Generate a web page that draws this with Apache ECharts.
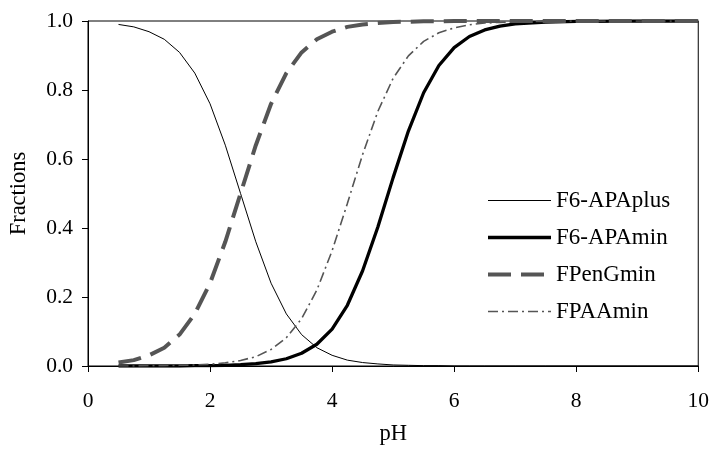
<!DOCTYPE html>
<html>
<head>
<meta charset="utf-8">
<script src="https://cdn.jsdelivr.net/npm/echarts@6/dist/echarts.min.js"></script>
<style>
html,body{margin:0;padding:0;background:#fff;}
#chart{width:712px;height:451px;}
</style>
</head>
<body>
<div id="chart"></div>
<script>
var pH = [0.5,0.75,1,1.25,1.5,1.75,2,2.25,2.5,2.75,3,3.25,3.5,3.75,4,4.25,4.5,4.75,5,5.25,5.5,5.75,6,6.25,6.5,6.75,7,7.5,8,9,10];
var F6APAplus = [0.990,0.983,0.969,0.947,0.909,0.849,0.760,0.640,0.500,0.360,0.240,0.151,0.091,0.053,0.031,0.017,0.010,0.006,0.003,0.002,0.001,0.001,0,0,0,0,0,0,0,0,0];
var F6APAmin = [0,0,0,0,0,0.001,0.001,0.002,0.004,0.007,0.012,0.021,0.037,0.063,0.107,0.176,0.276,0.403,0.546,0.681,0.792,0.871,0.923,0.955,0.974,0.985,0.992,0.997,0.999,1,1];
var FPenGmin = [0.010,0.017,0.031,0.053,0.091,0.151,0.240,0.360,0.500,0.640,0.760,0.849,0.909,0.947,0.969,0.983,0.990,0.994,0.997,0.998,0.999,0.999,1,1,1,1,1,1,1,1,1];
var FPAAmin = [0,0,0.001,0.001,0.002,0.003,0.005,0.009,0.016,0.027,0.048,0.082,0.137,0.220,0.334,0.471,0.613,0.738,0.834,0.899,0.941,0.966,0.980,0.989,0.994,0.996,0.998,0.999,1,1,1];
var seriesNames = ['F6-APAplus','F6-APAmin','FPenGmin','FPAAmin'];

function pairs(ys){ return pH.map(function(x,i){ return [x, ys[i]]; }); }

var FONT = "'Liberation Serif', 'Times New Roman', serif";
var styles = [
  {color:'#000', width:1, type:'solid'},
  {color:'#000', width:3.3, type:'solid'},
  {color:'#555', width:4, type:[23,10]},
  {color:'#555', width:1.6, type:[10,4,2,4]}
];
var hidden = {color:'transparent', borderColor:'transparent', borderWidth:0, opacity:0};

var chart = echarts.init(document.getElementById('chart'), null, {renderer:'canvas'});
chart.setOption({
  animation:false,
  backgroundColor:'#fff',
  grid:{left:86,right:12,top:21,bottom:84,show:true,borderColor:'#000',borderWidth:1,backgroundColor:'transparent'},
  xAxis:{
    type:'value',min:0,max:10,interval:2,
    name:'pH',nameLocation:'middle',nameGap:57,
    nameTextStyle:{fontFamily:FONT,fontSize:22.5,color:'#000'},
    axisLine:{show:true,onZero:false,lineStyle:{color:'#000',width:1}},
    axisTick:{show:true,inside:false,length:6,lineStyle:{color:'#000'}},
    axisLabel:{fontFamily:FONT,fontSize:21.5,color:'#000',margin:24},
    splitLine:{show:false}
  },
  yAxis:{
    type:'value',min:0,max:1,interval:0.2,
    name:'Fractions',nameLocation:'middle',nameGap:57,nameRotate:90,
    nameTextStyle:{fontFamily:FONT,fontSize:22.5,color:'#000'},
    axisLine:{show:true,onZero:false,lineStyle:{color:'#000',width:1}},
    axisTick:{show:true,inside:false,length:6,lineStyle:{color:'#000'}},
    axisLabel:{fontFamily:FONT,fontSize:21.5,color:'#000',margin:15,formatter:function(v){return v.toFixed(1);}},
    splitLine:{show:false}
  },
  legend:{
    orient:'vertical',left:481,top:184,itemWidth:63,itemHeight:14,itemGap:14,
    itemStyle:hidden,
    data:seriesNames.map(function(n,i){ return {name:n, itemStyle:hidden, lineStyle:styles[i]}; }),
    textStyle:{fontFamily:FONT,fontSize:23,color:'#000'}
  },
  series:seriesNames.map(function(n,i){
    var d = [F6APAplus,F6APAmin,FPenGmin,FPAAmin][i];
    return {name:n,type:'line',data:pairs(d),symbol:'none',lineStyle:styles[i],itemStyle:{color:styles[i].color}};
  })
});
</script>
</body>
</html>
